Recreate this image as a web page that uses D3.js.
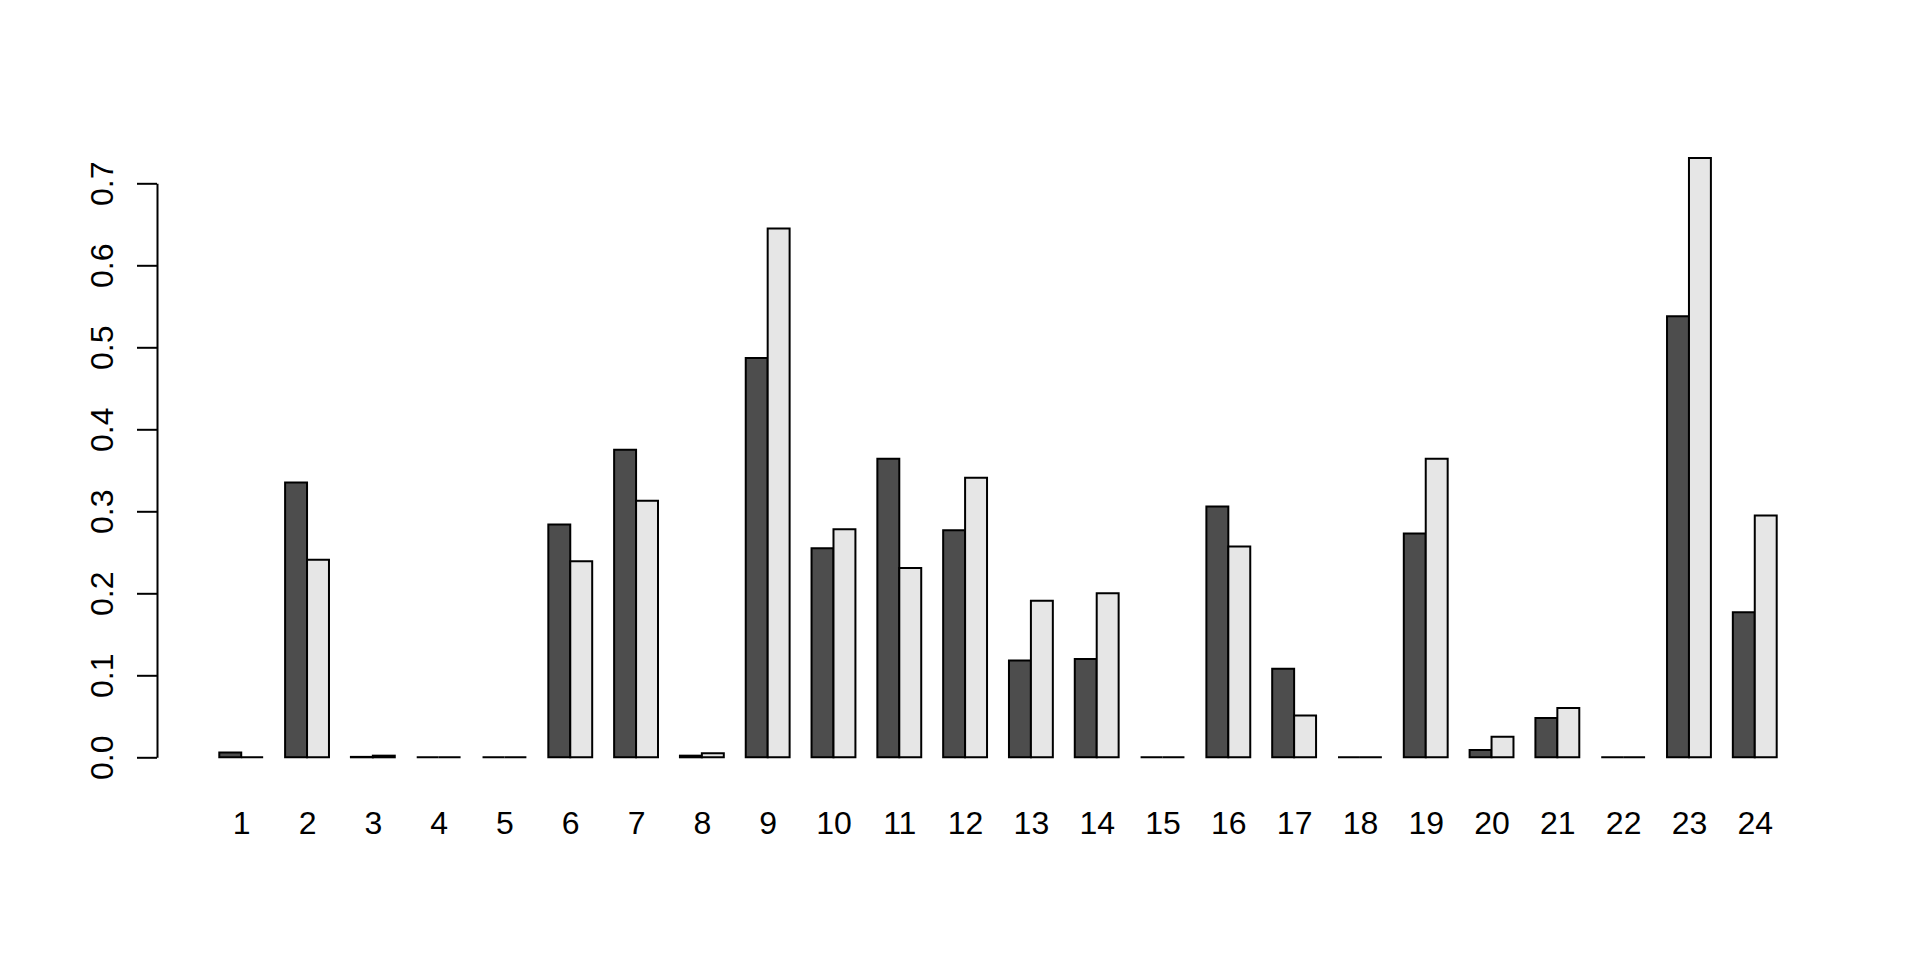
<!DOCTYPE html>
<html>
<head>
<meta charset="utf-8">
<script src="https://cdn.jsdelivr.net/npm/d3@7"></script>
<style>
  html, body { margin: 0; padding: 0; background: #fff; }
  svg { display: block; font-family: "Liberation Sans", Arial, sans-serif; }
</style>
</head>
<body>
<svg></svg>
<script>
// values, two bars per group
const categories = ["1","2","3","4","5","6","7","8","9","10","11","12",
                    "13","14","15","16","17","18","19","20","21","22","23","24"];
const seriesDark  = [0.006, 0.335, 0.0005, 0, 0, 0.284, 0.375, 0.002, 0.487, 0.255, 0.364, 0.277,
                     0.118, 0.120, 0, 0.306, 0.108, 0, 0.273, 0.009, 0.048, 0, 0.538, 0.177];
const seriesLight = [0, 0.241, 0.002, 0, 0, 0.239, 0.313, 0.005, 0.645, 0.278, 0.231, 0.341,
                     0.191, 0.200, 0, 0.257, 0.051, 0, 0.364, 0.025, 0.060, 0, 0.731, 0.295];
const yTicks = [0, 0.1, 0.2, 0.3, 0.4, 0.5, 0.6, 0.7];
const colors = ["#4D4D4D", "#E6E6E6"];

const svgWidth = 1920;
const svgHeight = 960;
const plot = {left: 157, right: 1839, zero: 757.3, top7: 183.3};

const svg = d3.select("svg")
  .attr("width", svgWidth)
  .attr("height", svgHeight);

// barplot units like R: width 1, space c(0,1), so 3 units per group, 4% padding
const nUnits = categories.length * 3;
const pad = 0.04 * (nUnits - 1);
const x = d3.scaleLinear()
  .domain([1 - pad, nUnits + pad])
  .range([plot.left, plot.right]);

const y = d3.scaleLinear()
  .domain([0, 0.7])
  .range([plot.zero, plot.top7]);

const bars = [];
categories.forEach((c, i) => {
  const start = 3 * (i + 1) - 2;
  bars.push({x0: start, x1: start + 1, v: seriesDark[i], fill: colors[0]});
  bars.push({x0: start + 1, x1: start + 2, v: seriesLight[i], fill: colors[1]});
});

// paths rather than rects so zero-height bars still show as a line
svg.append("g")
  .selectAll("path")
  .data(bars)
  .join("path")
  .attr("d", d => {
    const p = d3.path();
    p.moveTo(x(d.x0), y(0));
    p.lineTo(x(d.x0), y(d.v));
    p.lineTo(x(d.x1), y(d.v));
    p.lineTo(x(d.x1), y(0));
    p.closePath();
    return p.toString();
  })
  .attr("fill", d => d.fill)
  .attr("stroke", "#000")
  .attr("stroke-width", 2)
  .attr("stroke-linejoin", "miter");

// y axis, labels turned like R's las = 0
const yAxis = svg.append("g")
  .attr("transform", `translate(${plot.left},0)`)
  .call(d3.axisLeft(y).tickValues(yTicks).tickSize(20).tickSizeOuter(0)
    .tickFormat(d3.format(".1f")));
yAxis.select(".domain").attr("stroke", "#000").attr("stroke-width", 2);
yAxis.selectAll(".tick line").attr("stroke", "#000").attr("stroke-width", 2);
yAxis.selectAll(".tick text")
  .attr("transform", "rotate(-90)")
  .attr("x", 0)
  .attr("y", -44)
  .attr("dy", null)
  .attr("text-anchor", "middle")
  .attr("fill", "#000")
  .style("font-size", "32px")
  .style("font-family", "'Liberation Sans', Arial, sans-serif");

// group labels under the bars, no axis line
const centers = categories.map((c, i) => 3 * (i + 1) - 1);
const xAxis = svg.append("g")
  .attr("transform", `translate(0,${plot.zero})`)
  .call(d3.axisBottom(x).tickValues(centers).tickSize(0)
    .tickFormat((d, i) => categories[i]));
xAxis.select(".domain").remove();
xAxis.selectAll(".tick text")
  .attr("y", 76.5)
  .attr("dy", null)
  .attr("fill", "#000")
  .style("font-size", "32px")
  .style("font-family", "'Liberation Sans', Arial, sans-serif");
</script>
</body>
</html>
